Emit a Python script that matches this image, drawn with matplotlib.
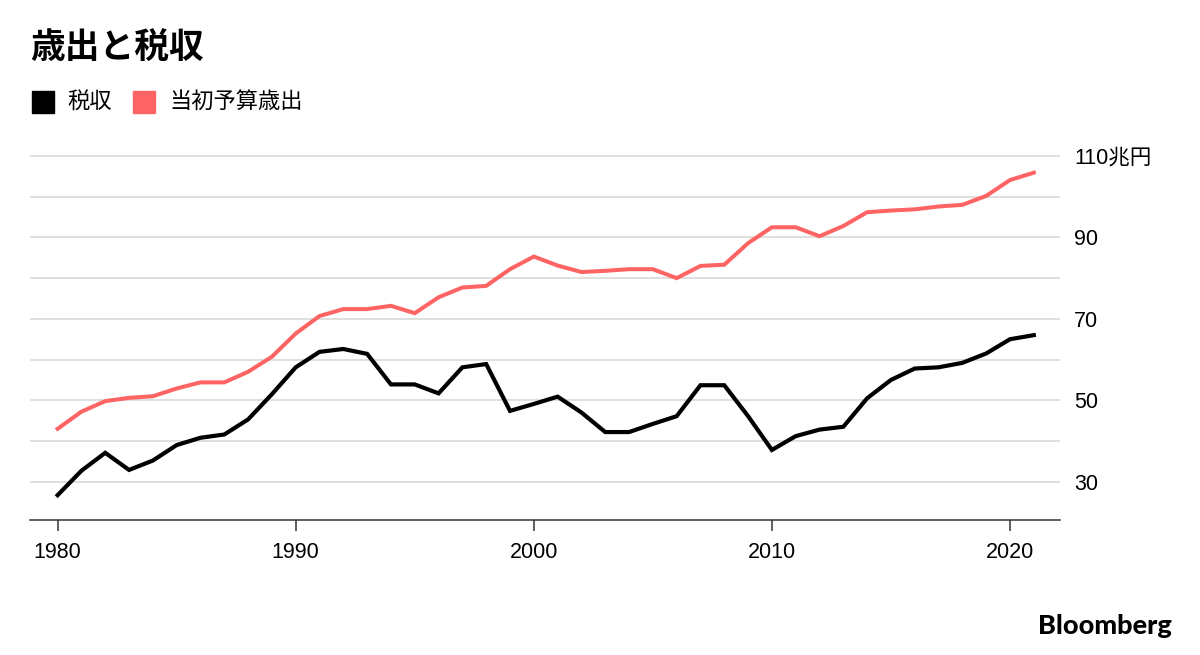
import matplotlib
matplotlib.use("Agg")
import matplotlib.pyplot as plt
from matplotlib.patches import Rectangle

years = list(range(1980, 2022))
tax_revenue = [26.7, 32.7, 37.1, 32.9, 35.2, 39.0, 40.8, 41.6, 45.3, 51.5,
               58.1, 61.9, 62.6, 61.4, 53.9, 53.9, 51.7, 58.1, 58.9, 47.4,
               49.1, 50.9, 47.0, 42.2, 42.2, 44.2, 46.1, 53.7, 53.7, 46.1,
               37.8, 41.2, 42.8, 43.5, 50.5, 55.0, 57.8, 58.1, 59.2, 61.5,
               65.0, 66.0]
budget_spending = [43.0, 47.2, 49.8, 50.6, 51.0, 52.9, 54.4, 54.4, 57.0, 60.7,
                   66.4, 70.7, 72.4, 72.4, 73.2, 71.4, 75.3, 77.7, 78.1, 82.2,
                   85.3, 83.1, 81.5, 81.8, 82.2, 82.2, 80.0, 83.0, 83.3, 88.6,
                   92.5, 92.5, 90.3, 92.8, 96.2, 96.6, 96.9, 97.6, 98.0, 100.2,
                   104.1, 105.9]
series_names = ["税収", "当初予算歳出"]
y_ticks = [30, 50, 70, 90, 110]
y_tick_labels = ["30", "50", "70", "90", "110兆円"]
y_grid = [40, 60, 80, 100]
x_ticks = [1980, 1990, 2000, 2010, 2020]
title = "歳出と税収"

BLACK = "#000000"
RED = "#ff6464"
JP = ["Noto Sans CJK JP", "DejaVu Sans"]
NUM = ["Liberation Sans", "Noto Sans CJK JP"]

W, H = 1200, 655
fig = plt.figure(figsize=(12, 6.55), dpi=100)
ymin, ymax = 20.6, 112.0
px_per_unit = 4.071
top_px = 156 - (ymax - 110) * px_per_unit
ax = fig.add_axes([30 / W, 1 - 520 / H, 1030 / W, (520 - top_px) / H])

ax.plot(years, tax_revenue, color=BLACK, lw=3.0, solid_joinstyle="miter", zorder=3)
ax.plot(years, budget_spending, color=RED, lw=2.9, solid_joinstyle="miter", zorder=3)

ax.set_xlim(1978.84, 2022.1)
ax.set_ylim(ymin, ymax)

ax.set_yticks(y_ticks)
ax.set_yticklabels(y_tick_labels, family=NUM, fontsize=15.5)
ax.set_yticks(y_grid, minor=True)
ax.yaxis.tick_right()
ax.tick_params(axis="y", which="both", length=0, pad=10)
ax.grid(axis="y", which="both", color="#dcdcdc", lw=1.3, zorder=0)
for lab in ax.get_yticklabels():
    lab.set_horizontalalignment("left")

ax.set_xticks(x_ticks)
ax.set_xticklabels([str(x) for x in x_ticks], family=NUM, fontsize=15.5)
ax.tick_params(axis="x", length=8, width=1.1, color="#333333", pad=8)

for s in ["top", "left", "right"]:
    ax.spines[s].set_visible(False)
ax.spines["bottom"].set_color("#333333")
ax.spines["bottom"].set_linewidth(1.1)

fig.text(30 / W, 1 - 48 / H, title, family=JP, fontsize=25, fontweight="bold",
         va="center", ha="left")

# legend
sq_w, sq_h = 22 / W, 22 / H
fig.patches.append(Rectangle((32 / W, 1 - 113 / H), sq_w, sq_h, color=BLACK,
                             transform=fig.transFigure, figure=fig))
fig.text(67 / W, 1 - 102 / H, series_names[0], family=JP, fontsize=16,
         va="center", ha="left")
fig.patches.append(Rectangle((133 / W, 1 - 113 / H), sq_w, sq_h, color=RED,
                             transform=fig.transFigure, figure=fig))
fig.text(169 / W, 1 - 102 / H, series_names[1], family=JP, fontsize=16,
         va="center", ha="left")

fig.text(1172 / W, 1 - 626 / H, "Bloomberg", family=["Lato", "Liberation Sans"],
         fontsize=19.5, fontweight="black", va="center", ha="right")

fig.savefig("out.png", dpi=100)
